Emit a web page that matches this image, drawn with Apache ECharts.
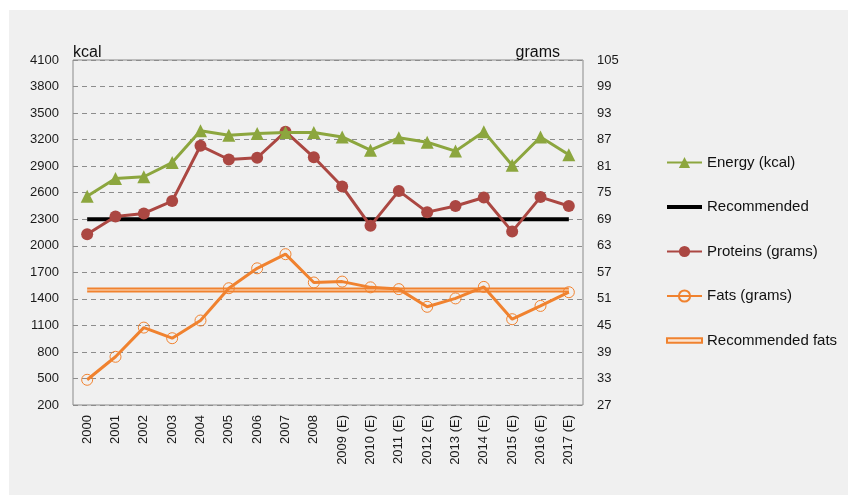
<!DOCTYPE html>
<html>
<head>
<meta charset="utf-8">
<script src="https://cdn.jsdelivr.net/npm/echarts@6/dist/echarts.min.js"></script>
<style>
    html, body { margin: 0; padding: 0; background: #ffffff; }
    #chart { position: absolute; left: 9px; top: 10px; width: 839px; height: 485px; background: #f0f0f0; }
</style>
</head>
<body>
<div id="chart"></div>
<script>
// years on the x axis
const years = ['2000', '2001', '2002', '2003', '2004', '2005', '2006', '2007', '2008',
    '2009 (E)', '2010 (E)', '2011 (E)', '2012 (E)', '2013 (E)', '2014 (E)', '2015 (E)', '2016 (E)', '2017 (E)'];

// kcal (left axis)
const energy = [2560, 2760, 2780, 2940, 3300, 3250, 3270, 3280, 3280,
    3230, 3080, 3220, 3170, 3070, 3290, 2910, 3230, 3030];
const recommended = years.map(function () { return 2300; });

// grams (right axis)
const proteins = [65.6, 69.6, 70.3, 73.1, 85.6, 82.5, 82.9, 88.8, 83.0,
    76.4, 67.5, 75.4, 70.6, 72.0, 73.9, 66.2, 74.0, 72.0];
const fats = [32.7, 37.9, 44.5, 42.1, 46.1, 53.4, 57.9, 61.1, 54.7,
    54.9, 53.6, 53.2, 49.2, 51.1, 53.7, 46.4, 49.4, 52.5];
const recommendedFats = years.map(function () { return 53; });

const green = '#8ca63e';
const red = '#ab4742';
const orange = '#f0822f';
const font = 'Liberation Sans, Arial, sans-serif';

let chart = echarts.init(document.getElementById('chart'));

chart.setOption({
    animation: false,
    textStyle: { fontFamily: font },
    grid: {
        left: 64, top: 50, right: 265, bottom: 90,
        show: true, borderColor: '#8a8a8a', borderWidth: 1,
        backgroundColor: 'transparent'
    },
    legend: {
        orient: 'vertical',
        left: 652,
        top: 140,
        itemWidth: 35,
        itemHeight: 14,
        itemGap: 29.5,
        textStyle: { fontSize: 15, color: '#111', fontFamily: font },
        data: [
            'Energy (kcal)',
            {
                name: 'Recommended',
                icon: 'path://M0,0 H100 V11 H0 Z',
                itemStyle: { color: '#000' }
            },
            'Proteins (grams)',
            'Fats (grams)',
            {
                name: 'Recommended fats',
                icon: 'path://M0,0 H100 V13 H0 Z',
                itemStyle: { color: '#fbe3d0', borderColor: orange, borderWidth: 2 }
            }
        ]
    },
    xAxis: {
        type: 'category',
        data: years,
        boundaryGap: true,
        axisLine: { show: false },
        axisTick: { show: false },
        axisLabel: { rotate: 90, margin: 10, fontSize: 13, color: '#1a1a1a', interval: 0 }
    },
    yAxis: [{
        type: 'value',
        min: 200, max: 4100, interval: 300,
        name: 'kcal',
        nameLocation: 'end',
        nameGap: -1,
        nameTextStyle: { fontSize: 16, color: '#111', align: 'left' },
        axisLine: { show: false },
        axisTick: { show: false },
        axisLabel: { margin: 14, fontSize: 13, color: '#1a1a1a', formatter: function (v) { return String(v); } },
        splitLine: { lineStyle: { color: '#8c8c8c', type: [5, 4], width: 1 } }
    }, {
        type: 'value',
        min: 27, max: 105, interval: 6,
        name: 'grams',
        nameLocation: 'end',
        nameGap: -1,
        nameTextStyle: { fontSize: 16, color: '#111', align: 'right', padding: [0, 23, 0, 0] },
        axisLine: { show: false },
        axisTick: { show: false },
        axisLabel: { margin: 14, fontSize: 13, color: '#1a1a1a' },
        splitLine: { show: false }
    }],
    series: [{
        name: 'Energy (kcal)',
        type: 'line',
        yAxisIndex: 0,
        data: energy,
        symbol: 'triangle',
        symbolSize: 13,
        itemStyle: { color: green },
        lineStyle: { color: green, width: 3 },
        z: 5
    }, {
        name: 'Recommended',
        type: 'line',
        yAxisIndex: 0,
        data: recommended,
        symbol: 'none',
        itemStyle: { color: '#000' },
        lineStyle: { color: '#000', width: 4 },
        z: 3
    }, {
        name: 'Proteins (grams)',
        type: 'line',
        yAxisIndex: 1,
        data: proteins,
        symbol: 'circle',
        symbolSize: 12,
        itemStyle: { color: red },
        lineStyle: { color: red, width: 3 },
        z: 4
    }, {
        name: 'Fats (grams)',
        type: 'line',
        yAxisIndex: 1,
        data: fats,
        symbol: 'circle',
        symbolSize: 11,
        itemStyle: { color: 'rgba(0,0,0,0)', borderColor: orange, borderWidth: 1 },
        lineStyle: { color: orange, width: 3 },
        z: 4
    }, {
        name: 'Recommended fats',
        type: 'line',
        yAxisIndex: 1,
        data: recommendedFats,
        symbol: 'none',
        itemStyle: { color: orange },
        lineStyle: { color: orange, width: 5 },
        z: 3
    }, {
        // light centre stripe of the double line
        name: 'fats stripe',
        type: 'line',
        yAxisIndex: 1,
        data: recommendedFats,
        symbol: 'none',
        silent: true,
        itemStyle: { color: '#fbe3d0' },
        lineStyle: { color: '#fbe3d0', width: 1.2 },
        z: 3.5
    }]
});
</script>
</body>
</html>
